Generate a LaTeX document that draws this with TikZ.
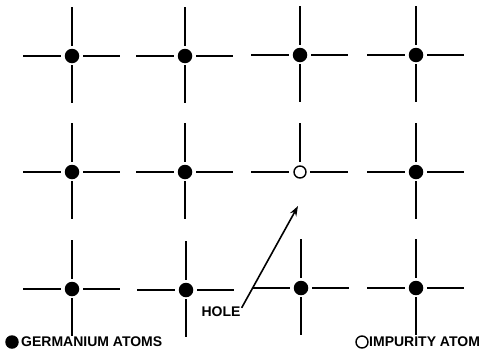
\documentclass[tikz,border=0pt]{standalone}
\usepackage{fontspec}
\setmainfont{Liberation Sans}
\usetikzlibrary{arrows.meta}
\begin{document}
\begin{tikzpicture}[x=1pt,y=-1pt,
  bond/.style={line width=1.8pt},
  ge/.style={circle,fill=black,inner sep=0,minimum size=14.5pt},
  imp/.style={circle,draw=black,line width=1.4pt,fill=white,inner sep=0,minimum size=12pt},
  lbl/.style={font=\bfseries\fontsize{14}{16}\selectfont,inner sep=0},
  pointer/.style={line width=1.6pt,-{Stealth[length=10pt,width=7pt]}}]
\useasboundingbox (0,0) rectangle (486,351);
% germanium atoms with their four half-bonds
\foreach \n/\x/\y in {a11/72/56,a21/185/56,a31/300/55,a41/416/55,
                      a12/72/172,a22/185/172,a42/416/172,
                      a13/72/289,a23/186/290,a33/301/288,a43/416/288}{
  \node[ge] (\n) at (\x,\y) {};
  \draw[bond] (\n.center) ++(-49,0) -- ++(38,0)
              (\n.center) ++(11,0) -- ++(37,0)
              (\n.center) ++(0,-49) -- ++(0,39)
              (\n.center) ++(0,9) -- ++(0,38);
}
% impurity atom: missing lower bond (the hole)
\node[imp] (a32) at (300,172) {};
\draw[bond] (a32.center) ++(-49,0) -- ++(38,0)
            (a32.center) ++(10,0) -- ++(38,0)
            (a32.center) ++(0,-49) -- ++(0,39);
\coordinate (hole) at (298,206);
\node[lbl] (holetxt) at (221,312) {HOLE};
\draw[pointer] ([shift={(1,1)}]holetxt.north east) -- (hole);
% legend
\node[circle,fill=black,inner sep=0,minimum size=13.5pt] (gekey) at (12,342) {};
\node[lbl,anchor=west] (getxt) at (21,342) {GERMANIUM ATOMS};
\node[imp,minimum size=12pt] (impkey) at (362,342) {};
\node[lbl,anchor=west] (imptxt) at (369,342) {IMPURITY ATOM};
\end{tikzpicture}
\end{document}
